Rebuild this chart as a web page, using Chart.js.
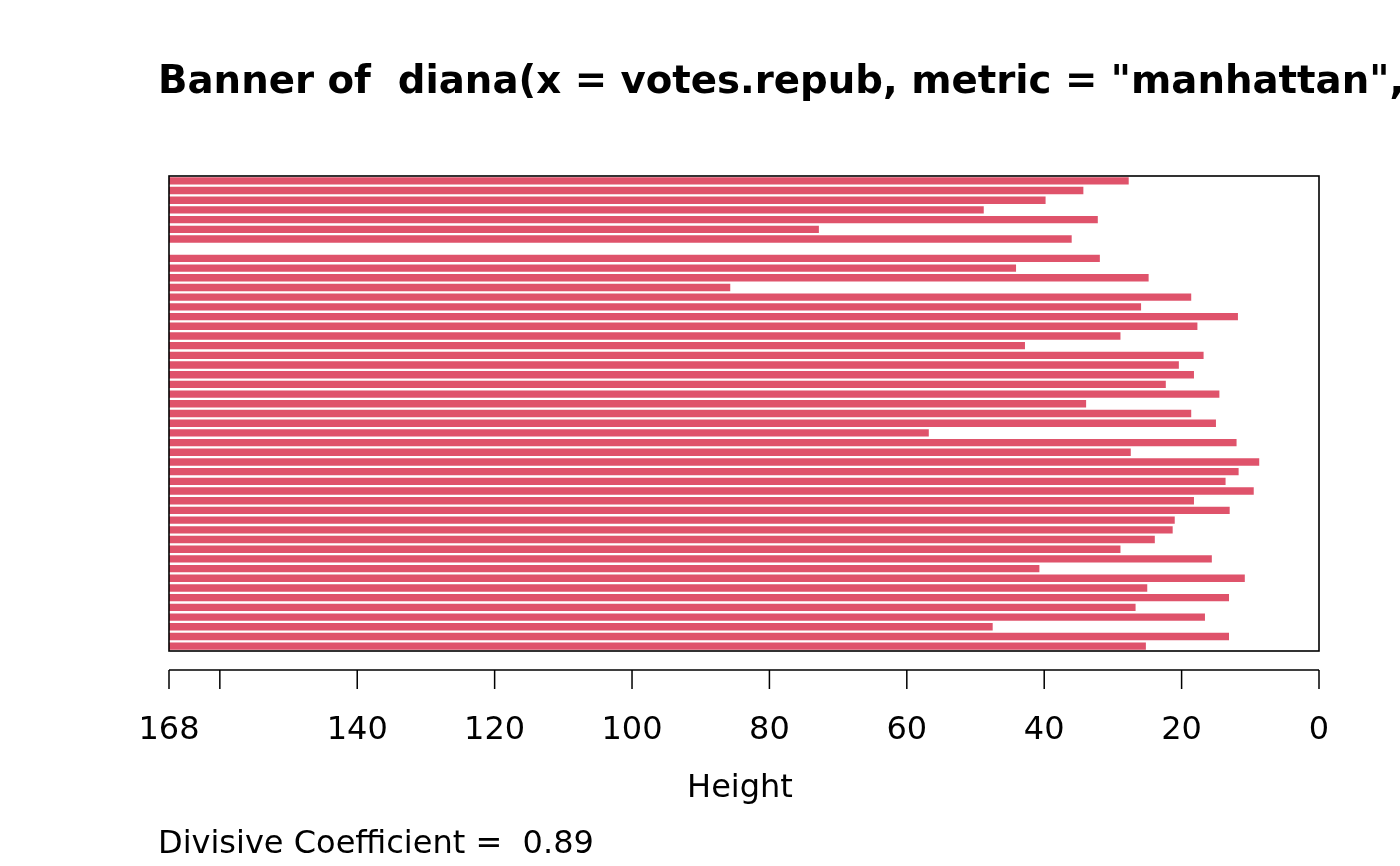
<!DOCTYPE html>
<html>
<head>
<meta charset="utf-8">
<script src="https://cdn.jsdelivr.net/npm/chart.js@4.4.1/dist/chart.umd.min.js"></script>
<style>
  html, body { margin: 0; padding: 0; background: #ffffff; }
  #wrap { width: 1400px; height: 866px; position: relative; }
  canvas { display: block; }
</style>
</head>
<body>
<div id="wrap"><canvas id="c" width="1400" height="866"></canvas></div>
<script>
// ---- data ----
const titleText = 'Banner of  diana(x = votes.repub, metric = "manhattan", stand = TRUE)';
const axisTitle = 'Height';
const coefText = 'Divisive Coefficient =  0.89';
const maxHeight = 167.4;
const heights = [
  27.7, 34.3, 39.8, 48.8, 32.2, 72.8, 36.0, 167.4, 31.9, 44.1,
  24.8, 85.7, 18.6, 25.9, 11.8, 17.7, 28.9, 42.8, 16.8, 20.4,
  18.2, 22.3, 14.5, 33.9, 18.6, 15.0, 56.8, 12.0, 27.4, 8.7,
  11.7, 13.6, 9.5, 18.2, 13.0, 21.0, 21.3, 23.9, 28.9, 15.6,
  40.7, 10.8, 25.0, 13.1, 26.7, 16.6, 47.5, 13.1, 25.2
];
const rowLabels = heights.map((_, i) => String(i + 1));
const tickValues = [maxHeight, 160, 140, 120, 100, 80, 60, 40, 20, 0];
const tickLabels = ['168', '', '140', '120', '100', '80', '60', '40', '20', '0'];

const FONT = '"DejaVu Sans", "Liberation Sans", sans-serif';

const decor = {
  id: 'decor',
  afterDraw(chart) {
    const ctx = chart.ctx;
    const a = chart.chartArea;
    const xs = chart.scales.x;
    ctx.save();
    // plot box
    ctx.strokeStyle = '#000';
    ctx.lineWidth = 1.6;
    ctx.strokeRect(a.left, a.top, a.right - a.left, a.bottom - a.top);
    // detached axis
    const axY = 670;
    const x0 = xs.getPixelForValue(maxHeight);
    const x1 = xs.getPixelForValue(0);
    ctx.lineWidth = 1.5;
    ctx.beginPath();
    ctx.moveTo(x0, axY);
    ctx.lineTo(x1, axY);
    tickValues.forEach(v => {
      const px = xs.getPixelForValue(v);
      ctx.moveTo(px, axY);
      ctx.lineTo(px, axY + 19);
    });
    ctx.stroke();
    ctx.fillStyle = '#000';
    ctx.textAlign = 'center';
    ctx.textBaseline = 'alphabetic';
    ctx.font = '32px ' + FONT;
    tickValues.forEach((v, i) => {
      if (tickLabels[i]) ctx.fillText(tickLabels[i], xs.getPixelForValue(v), 739);
    });
    // axis title
    ctx.fillText(axisTitle, (x0 + x1) / 2 - 4, 797);
    // coefficient
    ctx.textAlign = 'left';
    ctx.fillText(coefText, 158, 853);
    // main title
    ctx.font = 'bold 38.7px ' + FONT;
    ctx.fillText(titleText, 158, 93);
    ctx.restore();
  }
};

new Chart(document.getElementById('c'), {
  type: 'bar',
  data: {
    labels: rowLabels,
    datasets: [{
      data: heights.map(h => [maxHeight, h]),
      backgroundColor: '#DF536B',
      borderWidth: 0,
      categoryPercentage: 1.0,
      barPercentage: 0.76
    }]
  },
  options: {
    indexAxis: 'y',
    responsive: false,
    devicePixelRatio: 1,
    animation: false,
    layout: { padding: { left: 169, right: 81, top: 176, bottom: 215 } },
    plugins: { legend: { display: false }, tooltip: { enabled: false }, title: { display: false } },
    scales: {
      x: { type: 'linear', display: false, reverse: true, min: 0, max: maxHeight },
      y: { type: 'category', display: false, offset: true }
    }
  },
  plugins: [decor]
});
</script>
</body>
</html>
